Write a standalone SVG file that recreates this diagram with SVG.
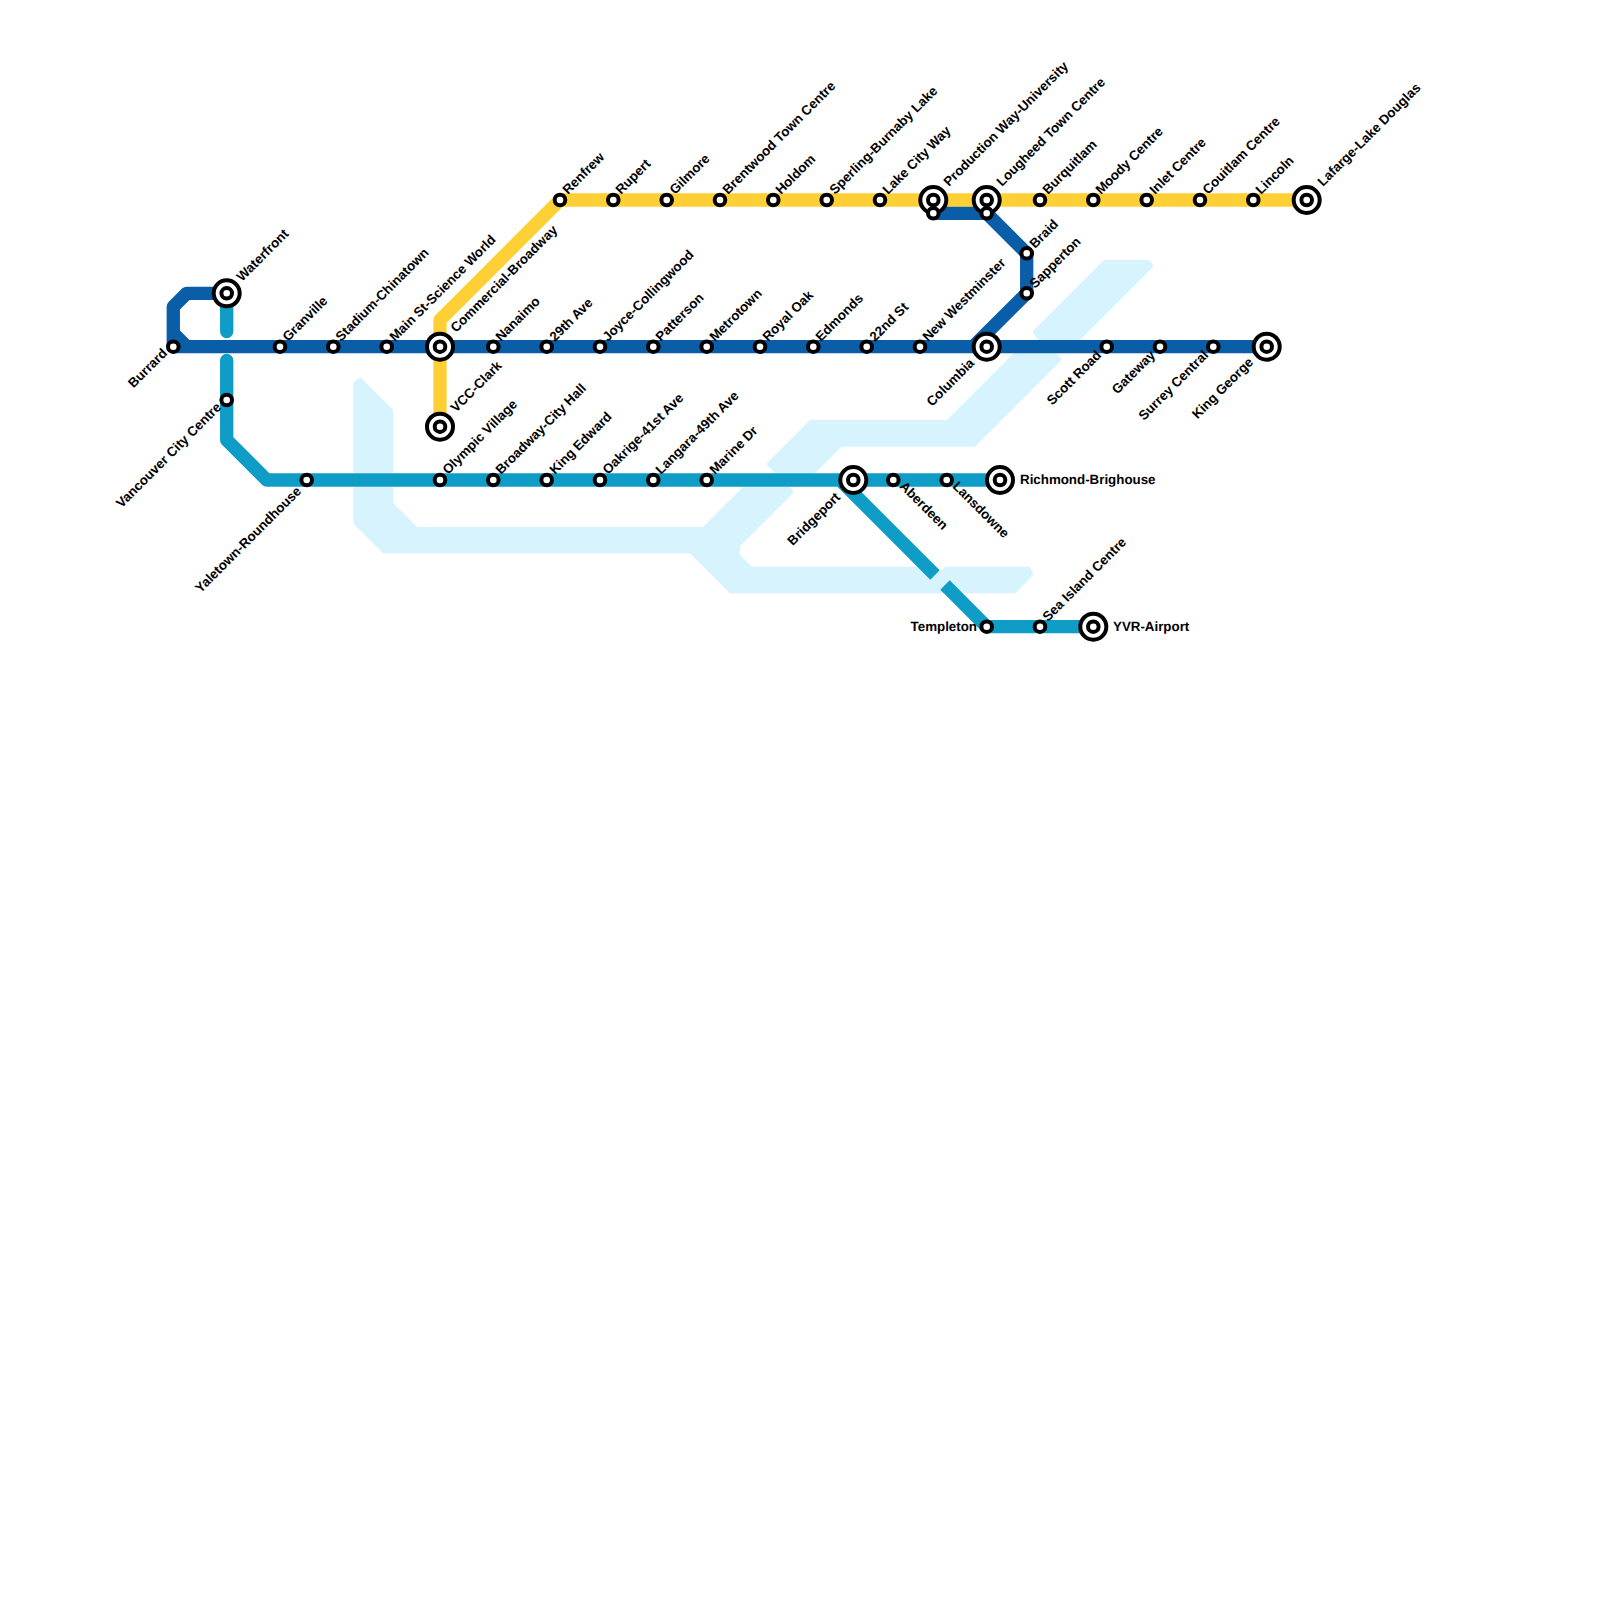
<svg xmlns="http://www.w3.org/2000/svg" width="1600" height="1600" viewBox="0 0 1600 1600">
<style>
.w{fill:#d6f3fe;stroke:#d6f3fe;stroke-width:6;stroke-linejoin:round}
.l{fill:none;stroke-width:13.33;stroke-linejoin:round}
.r{stroke-linecap:round}
.e{stroke:#0a5ea8}.c{stroke:#0f9dc7}.m{stroke:#ffd036}
.s{fill:#fff;stroke:#000;stroke-width:4}
text{font-family:"Liberation Sans",Arial,sans-serif;font-weight:700;font-size:13.33px;fill:#000;text-rendering:geometricPrecision}
.e2{text-anchor:end}
</style>
<defs>
<g id="st"><circle r="5.3" class="s"/></g>
<g id="ic"><circle r="13" class="s"/><circle r="5.3" class="s"/></g>
</defs>
<g id="water">
<path class="w" d="M356.3 384L360 381L390.3 411.3V470.3H356.3Z"/>
<path class="w" d="M356.3 489.7H390.3V504.3L416 530H704L744 490H789L790 492L737 545V556L750.7 569.7H918L935 575L936 578L947 569.7H1028L1030 574L1014 590.3H731.3L691.3 550.3H384.3L356.3 522.3Z"/>
<path class="w" d="M770 464L811 423H948L1005 366L1015 356H1055L1058 359.5L973.8 443.7H840.3L814 470H776Z"/>
<path class="w" d="M1036 332L1105 263H1148L1150 266L1076 340H1042Z"/>
</g>
<g id="connectors">
<path class="l c r" d="M226.7 293.3V331.5M226.7 360.5V400"/>
<path class="l c" d="M226.7 400V440L266.7 480H1000M840 480L935 575M945 585L986.7 626.7H1093.3"/>
<path class="l m" d="M440 426.7V320L560 200H1306.7"/>
<path class="l e" d="M1266.7 346.7H173.3V306.7L186.7 293.3H226.7M173.3 333.3L186.7 346.7M933.3 213.3H986.7L1026.7 253.3V293.3L973 346.7"/>
</g>
<g id="waterfront"><use href="#ic" x="226.7" y="293.3"/><text transform="translate(242,282) rotate(-45)">Waterfront</text></g>
<g id="burrard"><use href="#st" x="173.3" y="346.7"/><text class="e2" transform="translate(168,354) rotate(-45)">Burrard</text></g>
<g id="granville"><use href="#st" x="280" y="346.7"/><text transform="translate(288,342) rotate(-45)">Granville</text></g>
<g id="stadium"><use href="#st" x="333.3" y="346.7"/><text transform="translate(341,342) rotate(-45)">Stadium-Chinatown</text></g>
<g id="main"><use href="#st" x="386.7" y="346.7"/><text transform="translate(395,342) rotate(-45)">Main St-Science World</text></g>
<g id="commercial"><use href="#ic" x="440" y="346.7"/><text transform="translate(456,333) rotate(-45)">Commercial-Broadway</text></g>
<g id="nanaimo"><use href="#st" x="493.3" y="346.7"/><text transform="translate(501,342) rotate(-45)">Nanaimo</text></g>
<g id="ave29"><use href="#st" x="546.7" y="346.7"/><text transform="translate(555,342) rotate(-45)">29th Ave</text></g>
<g id="joyce"><use href="#st" x="600" y="346.7"/><text transform="translate(608,342) rotate(-45)">Joyce-Collingwood</text></g>
<g id="patterson"><use href="#st" x="653.3" y="346.7"/><text transform="translate(661,342) rotate(-45)">Patterson</text></g>
<g id="metrotown"><use href="#st" x="706.7" y="346.7"/><text transform="translate(715,342) rotate(-45)">Metrotown</text></g>
<g id="royaloak"><use href="#st" x="760" y="346.7"/><text transform="translate(768,342) rotate(-45)">Royal Oak</text></g>
<g id="edmonds"><use href="#st" x="813.3" y="346.7"/><text transform="translate(821,342) rotate(-45)">Edmonds</text></g>
<g id="st22"><use href="#st" x="866.7" y="346.7"/><text transform="translate(875,342) rotate(-45)">22nd St</text></g>
<g id="newwest"><use href="#st" x="920" y="346.7"/><text transform="translate(928,342) rotate(-45)">New Westminster</text></g>
<g id="columbia"><use href="#ic" x="986.7" y="346.7"/><text class="e2" transform="translate(975,364) rotate(-45)">Columbia</text></g>
<g id="scott"><use href="#st" x="1106.7" y="346.7"/><text class="e2" transform="translate(1102,356) rotate(-45)">Scott Road</text></g>
<g id="gateway"><use href="#st" x="1160" y="346.7"/><text class="e2" transform="translate(1156,356) rotate(-45)">Gateway</text></g>
<g id="surrey"><use href="#st" x="1213.3" y="346.7"/><text class="e2" transform="translate(1209,356) rotate(-45)">Surrey Central</text></g>
<g id="kinggeorge"><use href="#ic" x="1266.7" y="346.7"/><text class="e2" transform="translate(1254,363) rotate(-45)">King George</text></g>
<g id="vcc"><use href="#ic" x="440" y="426.7"/><text transform="translate(456,413) rotate(-45)">VCC-Clark</text></g>
<g id="vancity"><use href="#st" x="226.7" y="400"/><text class="e2" transform="translate(222,408) rotate(-45)">Vancouver City Centre</text></g>
<g id="yaletown"><use href="#st" x="306.7" y="480"/><text class="e2" transform="translate(302,492) rotate(-45)">Yaletown-Roundhouse</text></g>
<g id="olympic"><use href="#st" x="440" y="480"/><text transform="translate(448,475) rotate(-45)">Olympic Village</text></g>
<g id="broadway"><use href="#st" x="493.3" y="480"/><text transform="translate(501,475) rotate(-45)">Broadway-City Hall</text></g>
<g id="kingedward"><use href="#st" x="546.7" y="480"/><text transform="translate(555,475) rotate(-45)">King Edward</text></g>
<g id="oakridge"><use href="#st" x="600" y="480"/><text transform="translate(608,475) rotate(-45)">Oakrige-41st Ave</text></g>
<g id="langara"><use href="#st" x="653.3" y="480"/><text transform="translate(661,475) rotate(-45)">Langara-49th Ave</text></g>
<g id="marine"><use href="#st" x="706.7" y="480"/><text transform="translate(715,475) rotate(-45)">Marine Dr</text></g>
<g id="bridgeport"><use href="#ic" x="853.3" y="480"/><text class="e2" transform="translate(841,498) rotate(-45)">Bridgeport</text></g>
<g id="aberdeen"><use href="#st" x="893.3" y="480"/><text transform="translate(899,487) rotate(45)">Aberdeen</text></g>
<g id="lansdowne"><use href="#st" x="946.7" y="480"/><text transform="translate(952,487) rotate(45)">Lansdowne</text></g>
<g id="richmond"><use href="#ic" x="1000" y="480"/><text x="1020" y="484">Richmond-Brighouse</text></g>
<g id="templeton"><use href="#st" x="986.7" y="626.7"/><text class="e2" x="977" y="630.5">Templeton</text></g>
<g id="seaisland"><use href="#st" x="1040" y="626.7"/><text transform="translate(1048,622) rotate(-45)">Sea Island Centre</text></g>
<g id="yvr"><use href="#ic" x="1093.3" y="626.7"/><text x="1113" y="630.5">YVR-Airport</text></g>
<g id="renfrew"><use href="#st" x="560" y="200"/><text transform="translate(568,195) rotate(-45)">Renfrew</text></g>
<g id="rupert"><use href="#st" x="613.3" y="200"/><text transform="translate(621,195) rotate(-45)">Rupert</text></g>
<g id="gilmore"><use href="#st" x="666.7" y="200"/><text transform="translate(675,195) rotate(-45)">Gilmore</text></g>
<g id="brentwood"><use href="#st" x="720" y="200"/><text transform="translate(728,195) rotate(-45)">Brentwood Town Centre</text></g>
<g id="holdom"><use href="#st" x="773.3" y="200"/><text transform="translate(781,195) rotate(-45)">Holdom</text></g>
<g id="sperling"><use href="#st" x="826.7" y="200"/><text transform="translate(835,195) rotate(-45)">Sperling-Burnaby Lake</text></g>
<g id="lakecity"><use href="#st" x="880" y="200"/><text transform="translate(888,195) rotate(-45)">Lake City Way</text></g>
<g id="production"><use href="#ic" x="933.3" y="200"/><use href="#st" x="933.3" y="213.3"/><text transform="translate(949,187) rotate(-45)">Production Way-University</text></g>
<g id="lougheed"><use href="#ic" x="986.7" y="200"/><use href="#st" x="986.7" y="213.3"/><text transform="translate(1002,187) rotate(-45)">Lougheed Town Centre</text></g>
<g id="braid"><use href="#st" x="1026.7" y="253.3"/><text transform="translate(1035,249) rotate(-45)">Braid</text></g>
<g id="sapperton"><use href="#st" x="1026.7" y="293.3"/><text transform="translate(1035,289) rotate(-45)">Sapperton</text></g>
<g id="burquitlam"><use href="#st" x="1040" y="200"/><text transform="translate(1048,195) rotate(-45)">Burquitlam</text></g>
<g id="moody"><use href="#st" x="1093.3" y="200"/><text transform="translate(1101,195) rotate(-45)">Moody Centre</text></g>
<g id="inlet"><use href="#st" x="1146.7" y="200"/><text transform="translate(1155,195) rotate(-45)">Inlet Centre</text></g>
<g id="coquitlam"><use href="#st" x="1200" y="200"/><text transform="translate(1208,195) rotate(-45)">Couitlam Centre</text></g>
<g id="lincoln"><use href="#st" x="1253.3" y="200"/><text transform="translate(1261,195) rotate(-45)">Lincoln</text></g>
<g id="lafarge"><use href="#ic" x="1306.7" y="200"/><text transform="translate(1323,187) rotate(-45)">Lafarge-Lake Douglas</text></g>
</svg>
